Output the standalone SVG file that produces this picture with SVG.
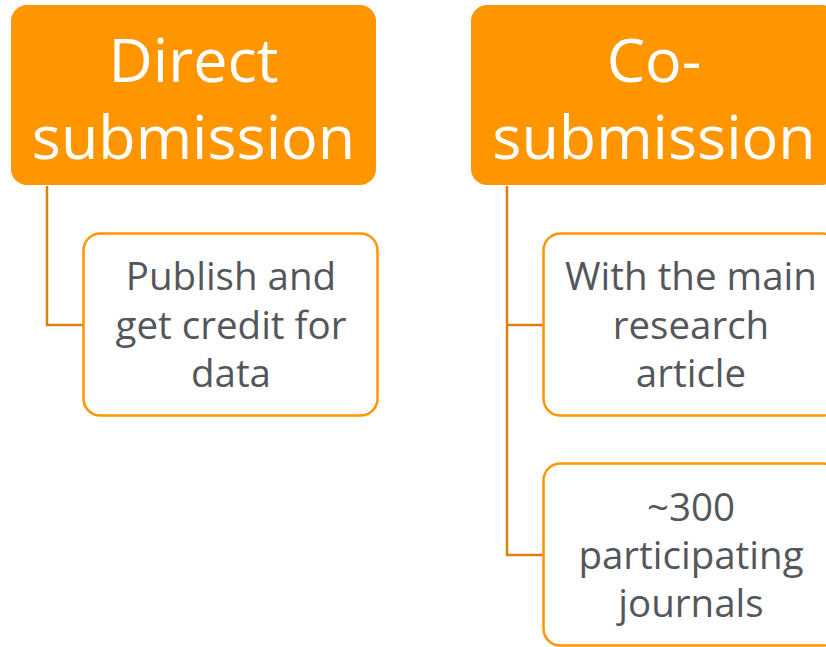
<svg xmlns="http://www.w3.org/2000/svg" width="826" height="647" viewBox="0 0 826 647">
<style>
.hdr{fill:#ff9600}
.hdrtxt{fill:#ffffff;font-family:"Open Sans","Noto Sans",sans-serif;font-size:61px;text-anchor:middle}
.child{fill:#ffffff;stroke:#ff9600;stroke-width:2.5}
.ctxt{fill:#53575c;font-family:"Open Sans","Noto Sans",sans-serif;font-size:38.5px;text-anchor:middle}
.conn{fill:none;stroke:#d9800f;stroke-width:2.5}
</style>
<rect width="826" height="647" fill="#ffffff"/>
<g id="connectors">
<path class="conn" d="M47,186 V325 H84"/>
<path class="conn" d="M507,186 V555 H544"/>
<path class="conn" d="M507,325 H544"/>
</g>
<g id="direct">
<rect class="hdr" x="11" y="5" width="365" height="180" rx="16"/>
<text class="hdrtxt" x="193.5" y="82">Direct</text>
<text class="hdrtxt" x="193.5" y="159">submission</text>
</g>
<g id="co">
<rect class="hdr" x="471" y="5" width="367" height="180" rx="16"/>
<text class="hdrtxt" x="654" y="82">Co-</text>
<text class="hdrtxt" x="654" y="159">submission</text>
</g>
<g id="publish">
<rect class="child" x="83.5" y="233.5" width="294" height="182" rx="17"/>
<text class="ctxt" x="231" y="290">Publish and</text>
<text class="ctxt" x="231" y="338.5">get credit for</text>
<text class="ctxt" x="231" y="387">data</text>
</g>
<g id="withmain">
<rect class="child" x="543.5" y="233.5" width="296" height="182" rx="17"/>
<text class="ctxt" x="691" y="290">With the main</text>
<text class="ctxt" x="691" y="338.5">research</text>
<text class="ctxt" x="691" y="387">article</text>
</g>
<g id="journals">
<rect class="child" x="543.5" y="463.5" width="296" height="182" rx="17"/>
<text class="ctxt" x="691" y="521">~300</text>
<text class="ctxt" x="691" y="569">participating</text>
<text class="ctxt" x="691" y="617">journals</text>
</g>
</svg>
